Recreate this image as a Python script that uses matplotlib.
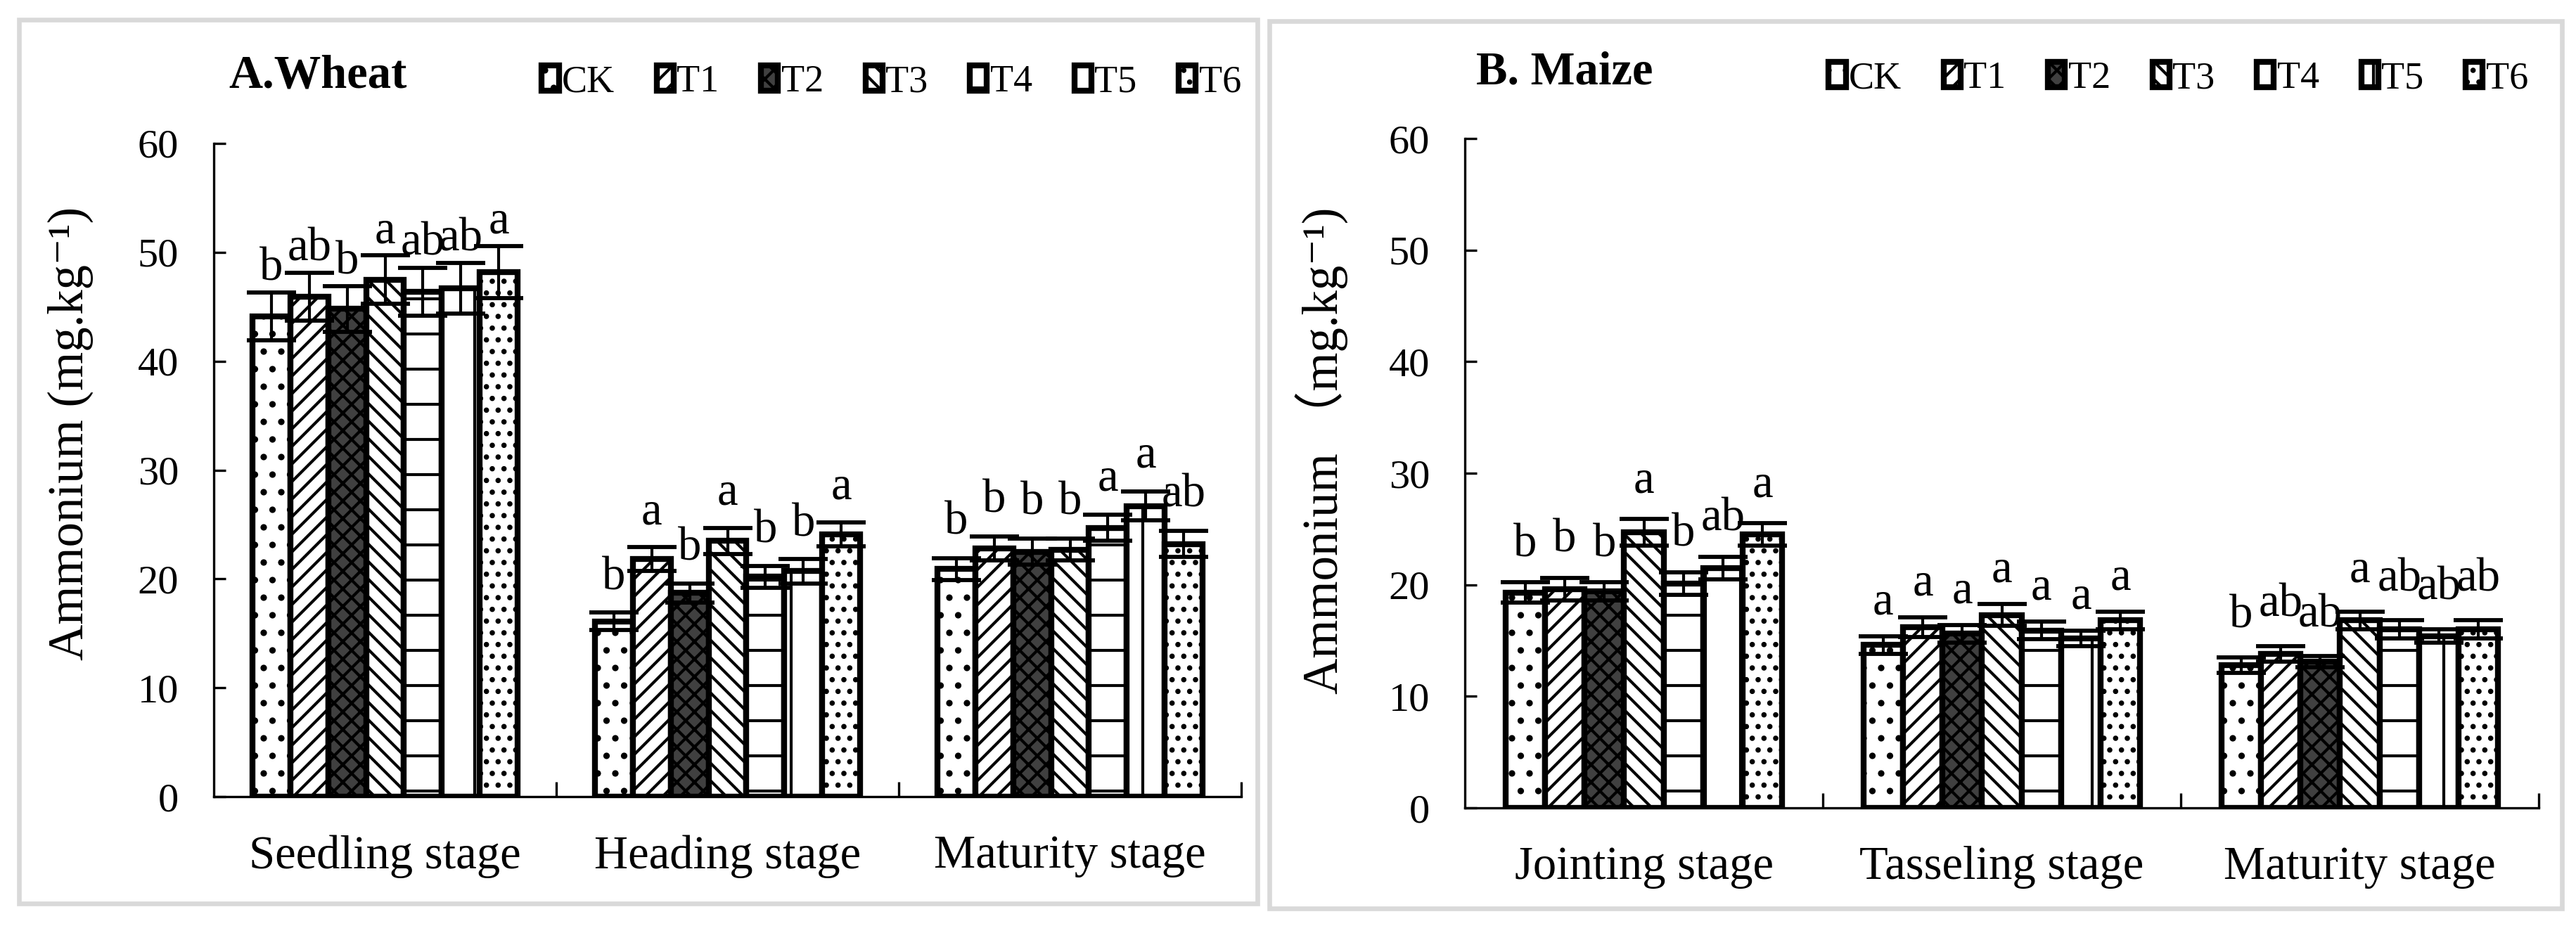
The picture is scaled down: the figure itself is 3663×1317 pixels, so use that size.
import numpy as np
import matplotlib.pyplot as plt
from matplotlib.patches import Rectangle

plt.rcParams['font.family'] = ['Liberation Serif', 'Noto Sans CJK SC', 'DejaVu Sans']
plt.rcParams['hatch.linewidth'] = 1.0

treatments = ['CK', 'T1', 'T2', 'T3', 'T4', 'T5', 'T6']

wheat_stages = ['Seedling stage', 'Heading stage', 'Maturity stage']
# one row per treatment, columns = stages
wheat_mean = [[44.1, 16.1, 20.9],
              [45.9, 21.8, 22.8],
              [44.8, 18.7, 22.5],
              [47.5, 23.5, 22.7],
              [46.4, 20.2, 24.7],
              [46.7, 20.7, 26.7],
              [48.2, 24.1, 23.2]]
wheat_err = [[2.2, 0.8, 1.0],
             [2.2, 1.1, 1.1],
             [2.1, 0.9, 1.2],
             [2.2, 1.2, 1.0],
             [2.2, 1.0, 1.2],
             [2.3, 1.1, 1.3],
             [2.4, 1.1, 1.2]]
wheat_sig = [['b', 'b', 'b'],
             ['ab', 'a', 'b'],
             ['b', 'b', 'b'],
             ['a', 'a', 'b'],
             ['ab', 'b', 'a'],
             ['ab', 'b', 'a'],
             ['a', 'a', 'ab']]

maize_stages = ['Jointing stage', 'Tasseling stage', 'Maturity stage']
maize_mean = [[19.3, 14.6, 12.8],
              [19.6, 16.2, 13.8],
              [19.4, 15.6, 13.1],
              [24.7, 17.3, 16.8],
              [20.1, 15.9, 16.0],
              [21.5, 15.2, 15.4],
              [24.5, 16.8, 16.0]]
maize_err = [[0.9, 0.8, 0.7],
             [1.0, 0.9, 0.7],
             [0.8, 0.8, 0.5],
             [1.2, 1.0, 0.8],
             [1.0, 0.8, 0.8],
             [1.0, 0.7, 0.6],
             [1.0, 0.8, 0.8]]
maize_sig = [['b', 'a', 'b'],
             ['b', 'a', 'ab'],
             ['b', 'a', 'ab'],
             ['a', 'a', 'a'],
             ['b', 'a', 'ab'],
             ['ab', 'a', 'ab'],
             ['a', 'a', 'ab']]

# bar look per treatment: (facecolor, hatch)
styles = [('white', '..'), ('white', '////'), ('0.25', 'xxxx'), ('white', '\\\\\\\\'),
          ('white', '-'), ('white', '|'), ('white', '...')]

W, H = 3663, 1317
fig = plt.figure(figsize=(W / 300, H / 300), dpi=300)


def px(x0, y0, x1, y1):
    # pixel box (top-left origin) -> figure fraction rect
    return [x0 / W, 1 - y1 / H, (x1 - x0) / W, (y1 - y0) / H]


def panel(rect, stages, mean, err, sig, gaps, title, title_xy, ylabel, ylab_xy, leg_xy):
    ax = fig.add_axes(rect)
    n = len(treatments)
    bw = 0.774 / n
    x = np.arange(len(stages))
    for i in range(n):
        fc, ht = styles[i]
        pos = x + (i - (n - 1) / 2) * bw
        ax.bar(pos, mean[i], bw, color=fc, edgecolor='black', hatch=ht,
               linewidth=2.0, label=treatments[i], zorder=2)
        ax.errorbar(pos, mean[i], yerr=err[i], fmt='none', ecolor='black',
                    elinewidth=1.0, capsize=8.5, capthick=1.4, zorder=3)
        for j in range(len(stages)):
            ax.text(pos[j], mean[i][j] + err[i][j] + gaps[j], sig[i][j],
                    ha='center', va='center', fontsize=16, zorder=4)
    ax.set_xlim(-0.5, len(stages) - 0.5)
    ax.set_ylim(0, 60)
    ax.set_yticks(np.arange(0, 61, 10))
    ax.set_xticks(x + 0.5)
    ax.set_xticklabels([])
    ax.set_xticks(x, minor=True)
    ax.set_xticklabels(stages, minor=True, fontsize=16)
    ax.tick_params(axis='x', which='major', direction='in', length=5, width=0.8)
    ax.tick_params(axis='x', which='minor', length=0, pad=13)
    ax.tick_params(axis='y', direction='in', length=4, width=0.8, labelsize=14, pad=12)
    for s in ['top', 'right']:
        ax.spines[s].set_visible(False)
    for s in ['left', 'bottom']:
        ax.spines[s].set_linewidth(0.8)
    ax.set_ylabel(ylabel, fontsize=17)
    ax.yaxis.set_label_coords(*ylab_xy)
    fig.text(title_xy[0] / W, 1 - title_xy[1] / H, title, fontsize=16,
             fontweight='bold', va='center', ha='left')
    ax.legend(loc='center right', bbox_to_anchor=(leg_xy[0] / W, 1 - leg_xy[1] / H),
              bbox_transform=fig.transFigure, ncol=n, frameon=False, fontsize=13,
              handlelength=0.45, handleheight=0.65, handletextpad=0.08,
              columnspacing=1.1, borderpad=0, borderaxespad=0)
    return ax


# grey frames round each panel
for box in [(27, 28, 1788, 1285), (1805, 30, 3643, 1292)]:
    r = px(*box)
    fig.add_artist(Rectangle(r[:2], r[2], r[3], transform=fig.transFigure,
                             fill=False, edgecolor='#d9d9d9', linewidth=1.6))

panel(px(304, 204, 1765, 1133), wheat_stages, wheat_mean, wheat_err, wheat_sig,
      [2.2, 3.2, 3.3], 'A.Wheat', (325, 108),
      'Ammonium (mg.kg⁻¹)', (-0.117, 0.556), (1765, 117))

panel(px(2083, 197, 3610, 1149), maize_stages, maize_mean, maize_err, maize_sig,
      [3.4, 3.0, 3.7], 'B. Maize', (2099, 103),
      'Ammonium （mg.kg⁻¹)', (-0.109, 0.534), (3595, 112))

plt.savefig('out.png', dpi=300)
